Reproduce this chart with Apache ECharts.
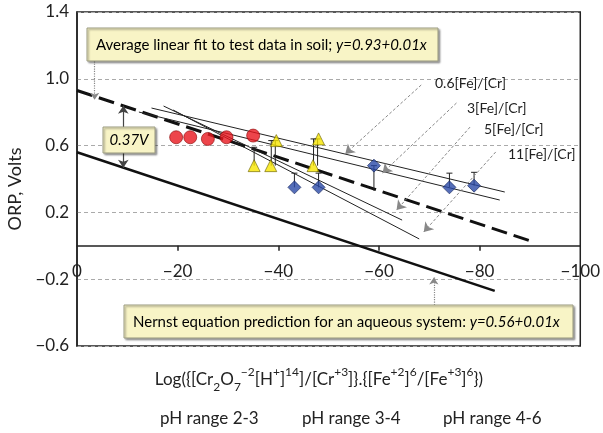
<!DOCTYPE html>
<html><head><meta charset="utf-8">
<script src="https://cdn.jsdelivr.net/npm/echarts@6/dist/echarts.min.js"></script>
<style>html,body{margin:0;padding:0;background:#fff}#c{width:603px;height:433px}</style>
</head><body><div id="c"></div>
<script>
// ---- data ----
const xTicks = [0, -20, -40, -60, -80, -100];
const yTicks = [-0.6, -0.2, 0.2, 0.6, 1.0, 1.4];
const avgFit = [[0, 0.93], [-90, 0.03]];          // y = 0.93 + 0.01x
const nernst = [[0, 0.56], [-83, -0.27]];         // y = 0.56 + 0.01x
const ratioNames = ['0.6[Fe]/[Cr]', '3[Fe]/[Cr]', '5[Fe]/[Cr]', '11[Fe]/[Cr]'];
const ratioStart = [[-14.8, 0.825], [-12.3, 0.801], [-17.2, 0.837], [-19.1, 0.813]];
const ratioEnd = [[-85.0, 0.322], [-84.0, 0.274], [-64.6, 0.154], [-68.0, 0.041]];
const redX = [-19.7, -22.5, -26.0, -29.7, -35.0];
const redY = [0.65, 0.65, 0.64, 0.65, 0.66];
const yellowX = [-35.2, -38.5, -39.6, -46.9, -48.0];
const yellowY = [0.48, 0.48, 0.63, 0.48, 0.64];
const blueX = [-43.2, -48.0, -59.0, -74.0, -78.9];
const blueY = [0.35, 0.35, 0.48, 0.35, 0.36];
const errX = [-35.2, -38.6, -39.4, -47.0, -47.8, -43.2, -48.0, -59.0, -74.0, -78.9];
const errLow = [0.48, 0.48, 0.48, 0.48, 0.48, 0.35, 0.35, 0.33, 0.35, 0.36];
const errHigh = [0.59, 0.63, 0.63, 0.64, 0.64, 0.435, 0.435, 0.48, 0.435, 0.44];
// label arrows (label end -> line)
const arrowFrom = [[-68.4, 0.963], [-75.4, 0.855], [-78.1, 0.711], [-83.2, 0.562]];
const arrowTo = [[-53.3, 0.55], [-60.7, 0.436], [-63.5, 0.214], [-68.9, 0.083]];
const gapArrow = [[-9.2, 0.838], [-9.2, 0.468]];   // 0.37 V difference
const fitPointer = [[-3.5, 1.105], [-3.5, 0.875]];
const nernstPointer = [[-70.9, -0.355], [-70.9, -0.19]];

const FONT = 'Lato';
const minus = s => String(s).replace('-', '\u2212');

const chart = echarts.init(document.getElementById('c'), null, {renderer: 'canvas'});

const series = [];
series.push({type: 'line', data: avgFit, symbol: 'none', z: 3,
  lineStyle: {color: '#111', width: 3, type: [16, 7]}});
series.push({type: 'line', data: nernst, symbol: 'none', z: 3,
  lineStyle: {color: '#111', width: 2.6}});
ratioNames.forEach((n, i) => {
  series.push({type: 'line', name: n, data: [ratioStart[i], ratioEnd[i]], symbol: 'none', z: 3,
    lineStyle: {color: '#222', width: 1}});
});
series.push({
  type: 'custom', z: 4,
  data: errX.map((x, i) => [x, errLow[i], errHigh[i]]),
  renderItem: (params, api) => {
    const lo = api.coord([api.value(0), api.value(1)]);
    const hi = api.coord([api.value(0), api.value(2)]);
    return {type: 'group', children: [
      {type: 'line', shape: {x1: lo[0], y1: lo[1], x2: hi[0], y2: hi[1]}, style: {stroke: '#222', lineWidth: 1}},
      {type: 'line', shape: {x1: hi[0] - 3, y1: hi[1], x2: hi[0] + 3, y2: hi[1]}, style: {stroke: '#222', lineWidth: 1}}
    ]};
  }
});
series.push({type: 'scatter', data: redX.map((x, i) => [x, redY[i]]), symbol: 'circle', symbolSize: 13, z: 5,
  itemStyle: {color: '#e8171e', borderColor: '#8a0a0a', borderWidth: 0.8}});
series.push({type: 'scatter', data: yellowX.map((x, i) => [x, yellowY[i]]), symbol: 'triangle', symbolSize: 12, z: 5,
  itemStyle: {color: '#f7e600', borderColor: '#6a6000', borderWidth: 0.8}});
series.push({type: 'scatter', data: blueX.map((x, i) => [x, blueY[i]]), symbol: 'diamond', symbolSize: 13, z: 5,
  itemStyle: {color: '#2b4aa8', borderColor: '#14245a', borderWidth: 0.8}});
series.push({type: 'lines', coordinateSystem: 'cartesian2d', z: 6,
  data: arrowFrom.map((p, i) => ({coords: [p, arrowTo[i]]})),
  symbol: ['none', 'arrow'], symbolSize: [0, 9],
  lineStyle: {color: '#888', width: 1, type: [3, 2], opacity: 1}});
series.push({type: 'lines', coordinateSystem: 'cartesian2d', z: 6,
  data: [{coords: gapArrow}],
  symbol: ['arrow', 'arrow'], symbolSize: 8,
  lineStyle: {color: '#444', width: 1.2, opacity: 1}});
series.push({type: 'lines', coordinateSystem: 'cartesian2d', z: 6,
  data: [{coords: fitPointer}, {coords: nernstPointer}],
  symbol: ['none', 'arrow'], symbolSize: 7,
  lineStyle: {color: '#888', width: 1.2, type: 'dotted', opacity: 1}});

const boxStyle = {fill: '#f8f4c6', stroke: '#9a9a80', lineWidth: 1,
  shadowBlur: 2, shadowOffsetX: 1.5, shadowOffsetY: 1.5, shadowColor: 'rgba(0,0,0,0.35)'};
const rich = {
  n: {fontFamily: FONT, fontSize: 15, color: '#222'},
  i: {fontFamily: FONT, fontSize: 15, color: '#222', fontStyle: 'italic'}
};
const LH = 27;
const baseS = {fontFamily: FONT, fontSize: 17, color: '#222', lineHeight: LH, verticalAlign: 'middle'};
const supS = {fontFamily: FONT, fontSize: 12, color: '#222', lineHeight: LH, verticalAlign: 'top'};
const subS = {fontFamily: FONT, fontSize: 12, color: '#222', lineHeight: LH, verticalAlign: 'bottom'};
// '}' cannot sit inside a rich token, so it is left as plain text
const xTitle = '{b|Log({[Cr}{sb|2}{b|O}{sb|7}{sp|\u22122}{b|[H}{sp|+}{b|]}{sp|14}{b|]/[Cr}{sp|+3}{b|]}' + '}' +
  '{b|.{[Fe}{sp|+2}{b|]}{sp|6}{b|/[Fe}{sp|+3}{b|]}{sp|6}' + '})';

// offset that moves the x axis (line, ticks, labels) up to y = 0
const plotTop = 12, plotH = 334;
const zeroOffset = -plotH * (0 - (-0.6)) / (1.4 - (-0.6));

chart.setOption({
  animation: false,
  textStyle: {fontFamily: FONT},
  grid: {left: 77, top: plotTop, width: 512, height: plotH, show: true, borderColor: '#222', borderWidth: 1.5, backgroundColor: 'transparent', containLabel: false},
  xAxis: {type: 'value', min: -100, max: 0, interval: 20, inverse: true,
    position: 'bottom', offset: zeroOffset,
    axisLine: {onZero: false, lineStyle: {color: '#222', width: 1.5}},
    axisTick: {show: true, length: 5, lineStyle: {color: '#222', width: 1.5},
      customValues: xTicks.slice(1, -1)},
    axisLabel: {margin: 17, fontSize: 17, color: '#222', fontFamily: FONT,
      customValues: xTicks, formatter: v => minus(Math.round(v))},
    splitLine: {show: false}},
  yAxis: {type: 'value', min: -0.6, max: 1.4, interval: 0.4,
    axisLine: {show: true, onZero: false, lineStyle: {color: '#222', width: 1.5}},
    axisTick: {show: false},
    axisLabel: {margin: 8, fontSize: 17, color: '#222', fontFamily: FONT,
      customValues: yTicks, formatter: v => minus((Math.round(v * 10) / 10).toFixed(1))},
    splitLine: {show: true, lineStyle: {color: '#aaa', width: 1.2, type: [4, 3]}}},
  series: series,
  graphic: [
    {type: 'text', x: 15, y: 189, rotation: Math.PI / 2, z: 21, style: {text: 'ORP, Volts', font: '18px ' + FONT, fill: '#222', align: 'center', verticalAlign: 'middle'}},
    {type: 'rect', shape: {x: 87, y: 28, width: 351, height: 33}, style: boxStyle, z: 20},
    {type: 'text', x: 96, y: 45, z: 21, style: {text: '{n|Average linear fit to test data in soil; }{i|y=0.93+0.01x}', rich: rich, verticalAlign: 'middle'}},
    {type: 'rect', shape: {x: 103, y: 127, width: 52, height: 26}, style: boxStyle, z: 20},
    {type: 'text', x: 129, y: 140, z: 21, style: {text: '{i|0.37V}', rich: rich, align: 'center', verticalAlign: 'middle'}},
    {type: 'rect', shape: {x: 124, y: 305, width: 449, height: 33}, style: boxStyle, z: 20},
    {type: 'text', x: 133, y: 322, z: 21, style: {text: '{n|Nernst equation prediction for an aqueous system: }{i|y=0.56+0.01x}', rich: rich, verticalAlign: 'middle'}},
    {type: 'text', x: 435, y: 83, z: 21, style: {text: ratioNames[0], font: '14px ' + FONT, fill: '#222', verticalAlign: 'middle'}},
    {type: 'text', x: 467, y: 108, z: 21, style: {text: ratioNames[1], font: '14px ' + FONT, fill: '#222', verticalAlign: 'middle'}},
    {type: 'text', x: 484, y: 129, z: 21, style: {text: ratioNames[2], font: '14px ' + FONT, fill: '#222', verticalAlign: 'middle'}},
    {type: 'text', x: 508, y: 154, z: 21, style: {text: ratioNames[3], font: '14px ' + FONT, fill: '#222', verticalAlign: 'middle'}},
    {type: 'text', x: 319, y: 380, z: 21, style: {
      text: xTitle, fontFamily: FONT, fontSize: 17, lineHeight: LH, fill: '#222',
      rich: {b: baseS, sp: supS, sb: subS}, align: 'center', verticalAlign: 'middle'}},
    {type: 'text', x: 160, y: 419, z: 21, style: {text: 'pH range 2-3', font: '17px ' + FONT, fill: '#222', verticalAlign: 'middle'}},
    {type: 'text', x: 302, y: 419, z: 21, style: {text: 'pH range 3-4', font: '17px ' + FONT, fill: '#222', verticalAlign: 'middle'}},
    {type: 'text', x: 443, y: 419, z: 21, style: {text: 'pH range 4-6', font: '17px ' + FONT, fill: '#222', verticalAlign: 'middle'}}
  ]
});
</script></body></html>
